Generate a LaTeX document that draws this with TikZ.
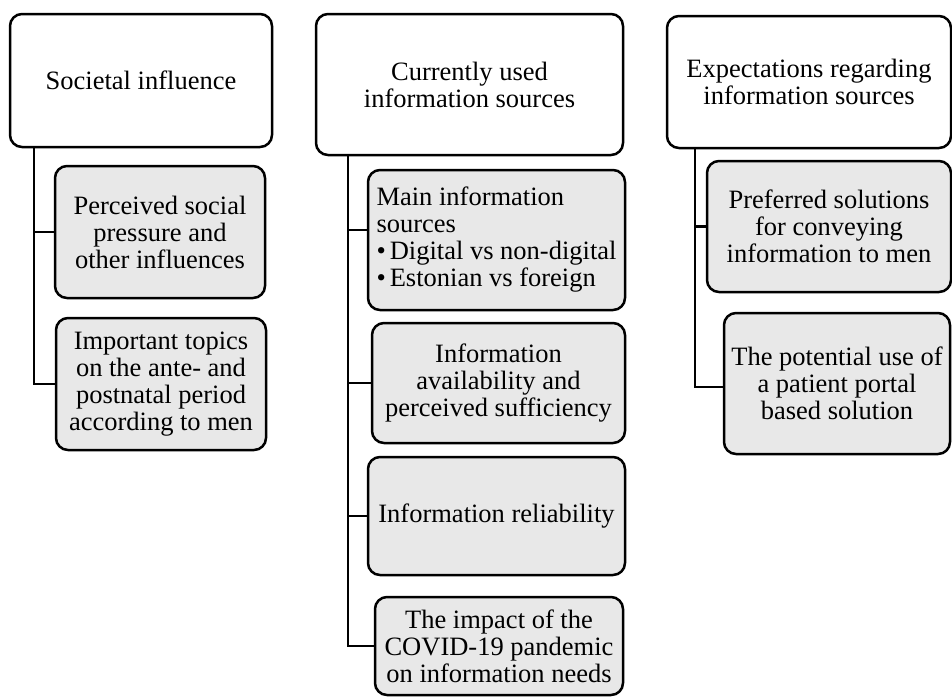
\documentclass[tikz,border=0pt]{standalone}
\usepackage{fontspec}
\setmainfont{Liberation Serif}
\definecolor{boxgray}{RGB}{232,232,232}
\tikzset{
  basebox/.style={draw=black, line width=2.5pt, rounded corners=12pt, inner sep=0pt, align=center,
    font=\fontsize{26.5pt}{27pt}\selectfont},
  headbox/.style={basebox, fill=white},
  subbox/.style={basebox, fill=boxgray},
  link/.style={line width=2.5pt, line join=miter}
}
\begin{document}
\begin{tikzpicture}[x=1pt,y=-1pt]
\useasboundingbox (0,0) rectangle (952,696);
% Column 1
\node[headbox, minimum width=262pt, minimum height=133pt] (t1) at (141,80.5) {Societal influence};
\node[subbox, minimum width=210pt, minimum height=132pt] (c11) at (160,232) {Perceived social\\pressure and\\other influences};
\node[subbox, minimum width=210pt, minimum height=132pt] (c12) at (161,384) {Important topics\\on the ante- and\\postnatal period\\according to men};
\draw[link] ([xshift=25pt]t1.south west) |- (c11.west);
\draw[link] ([xshift=25pt]t1.south west) |- (c12.west);
% Column 2
\node[headbox, minimum width=307pt, minimum height=141pt] (t2) at (469.5,84.5) {Currently used\\information sources};
\node[subbox, minimum width=257pt, minimum height=140pt, align=left] (c21) at (496.5,240) {Main information\\sources\\\textbullet\hspace{4pt}Digital vs non-digital\\\textbullet\hspace{4pt}Estonian vs foreign};
\node[subbox, minimum width=253pt, minimum height=120pt] (c22) at (498.5,383) {Information\\availability and\\perceived sufficiency};
\node[subbox, minimum width=257pt, minimum height=118pt] (c23) at (496.5,516) {Information reliability};
\node[subbox, minimum width=248pt, minimum height=98pt] (c24) at (499,646) {The impact of the\\COVID-19 pandemic\\on information needs};
\draw[link] ([xshift=33pt]t2.south west) |- ([yshift=10pt]c21.west);
\draw[link] ([xshift=33pt]t2.south west) |- (c22.west);
\draw[link] ([xshift=33pt]t2.south west) |- (c23.west);
\draw[link] ([xshift=33pt]t2.south west) |- (c24.west);
% Column 3
\node[headbox, minimum width=284pt, minimum height=132pt] (t3) at (809,82) {Expectations regarding\\information sources};
\node[subbox, minimum width=244pt, minimum height=131pt] (c31) at (829,226.5) {Preferred solutions\\for conveying\\information to men};
\node[subbox, minimum width=226pt, minimum height=141pt] (c32) at (837,383.5) {The potential use of\\a patient portal\\based solution};
\draw[link] ([xshift=29pt]t3.south west) |- (c31.west);
\draw[link] ([xshift=29pt]t3.south west) |- ([yshift=-3.5pt]c32.west);
\end{tikzpicture}
\end{document}
